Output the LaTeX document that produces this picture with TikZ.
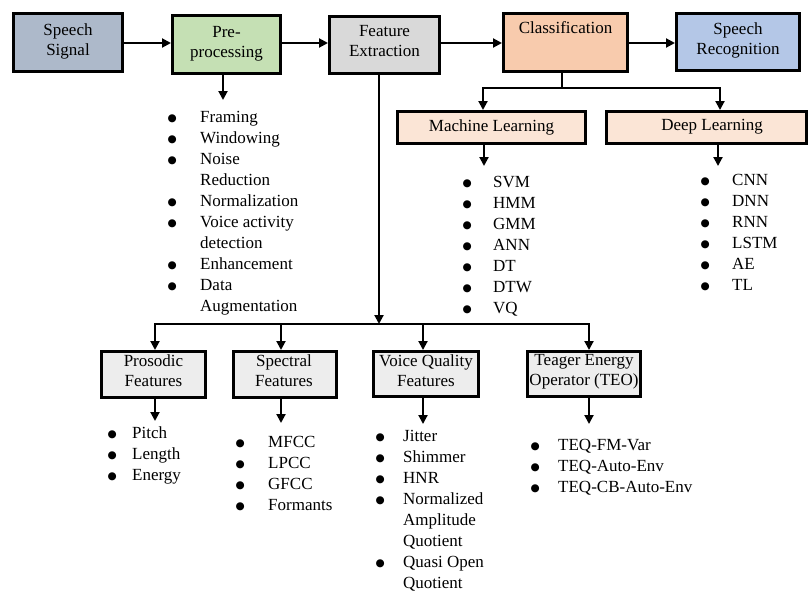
\documentclass[tikz,border=0pt]{standalone}
\usepackage{fontspec}
\setmainfont{Liberation Serif}
\newfontfamily\dejavu{DejaVu Sans}
\usetikzlibrary{arrows.meta}
\definecolor{cSS}{HTML}{ADB9CA}
\definecolor{cPre}{HTML}{C5E0B4}
\definecolor{cFE}{HTML}{D9D9D9}
\definecolor{cCls}{HTML}{F8CBAD}
\definecolor{cSR}{HTML}{B4C7E7}
\definecolor{cML}{HTML}{FBE5D6}
\definecolor{cBot}{HTML}{EDEDED}
\newcommand\bl{\makebox[0pt]{\raisebox{1pt}{\dejavu\fontsize{10.5}{10.5}\selectfont ●}}}
\newcommand\itemsL[2]{\begin{tabular}{@{}l@{\hspace{#1}}l@{}}#2\end{tabular}}
\begin{document}
\begin{tikzpicture}[x=1pt,y=-1pt,
  box/.style={draw, line width=3pt, inner sep=0pt, rectangle},
  txt/.style={align=center, inner sep=0pt, font=\fontsize{17}{20}\selectfont},
  conn/.style={line width=2pt},
  arr/.style={line width=2pt, -{Triangle[width=9pt,length=9pt]}},
  lst/.style={anchor=north west, inner sep=0pt, font=\fontsize{17}{21}\selectfont}
]
\useasboundingbox (0,0) rectangle (810,592);
% top row boxes
\node[box, fill=cSS,  minimum width=109pt, minimum height=58pt] (ss)  at (68,42.5) {};
\node[box, fill=cPre, minimum width=108pt, minimum height=58pt] (pre) at (226.5,44.5) {};
\node[box, fill=cFE,  minimum width=110pt, minimum height=57pt] (fe)  at (384.5,45) {};
\node[box, fill=cCls, minimum width=124pt, minimum height=58pt] (cls) at (565.5,42.5) {};
\node[box, fill=cSR,  minimum width=123pt, minimum height=57pt] (sr)  at (738,42) {};
\node[txt] (tss)  at (68,41.5) {Speech\\Signal};
\node[txt] (tpre) at (226.5,44) {Pre-\\processing};
\node[txt] (tfe)  at (384.5,41) {Feature\\Extraction};
\node[txt] (tcls) at (565.5,28) {Classification};
\node[txt] (tsr)  at (738,40) {Speech\\Recognition};
% classifier boxes
\node[box, fill=cML, minimum width=188pt, minimum height=32pt] (ml) at (491.5,127.5) {};
\node[box, fill=cML, minimum width=200pt, minimum height=32pt] (dl) at (706.5,127.5) {};
\node[txt] (tml) at (491.5,127) {Machine Learning};
\node[txt] (tdl) at (712,127) {Deep Learning};
% feature boxes
\node[box, fill=cBot, minimum width=104pt, minimum height=46pt] (pros) at (153.5,374.5) {};
\node[box, fill=cBot, minimum width=103pt, minimum height=46pt] (spec) at (285,374.5) {};
\node[box, fill=cBot, minimum width=105pt, minimum height=45pt] (vq)   at (426,374) {};
\node[box, fill=cBot, minimum width=113pt, minimum height=45pt] (teo)  at (584,374) {};
\node[txt] (tpros) at (153.5,370.5) {Prosodic\\Features};
\node[txt] (tspec) at (284,370.5) {Spectral\\Features};
\node[txt] (tvq)   at (426,370.5) {Voice Quality\\Features};
\node[txt] (tteo)  at (584,372) {Teager Energy\\Operator (TEO)};
% horizontal chain
\coordinate (hy) at (0,43);
\draw[arr] (ss.east |- hy) -- (pre.west |- hy);
\draw[arr] (pre.east |- hy) -- (fe.west |- hy);
\draw[arr] (fe.east |- hy) -- (cls.west |- hy);
\draw[arr] (cls.east |- hy) -- (sr.west |- hy);
% pre-processing down
\coordinate (pretip) at (223,100);
\draw[arr] (pre.south -| pretip) -- (pretip);
% feature extraction tree
\coordinate (fbar) at (379,324);
\draw[arr] (fe.south -| fbar) -- (fbar);
\coordinate (b1) at (155,324);
\coordinate (b2) at (281,324);
\coordinate (b3) at (423,324);
\coordinate (b4) at (589,324);
\draw[conn, line cap=rect] (b1) -- (b4);
\draw[arr] (b1) -- (b1 |- pros.north);
\draw[arr] (b2) -- (b2 |- spec.north);
\draw[arr] (b3) -- (b3 |- vq.north);
\draw[arr] (b4) -- (b4 |- teo.north);
% classification tree
\coordinate (cbar) at (562,88);
\coordinate (c1) at (483,88);
\coordinate (c2) at (720,88);
\draw[conn] (cls.south -| cbar) -- (cbar);
\draw[conn, line cap=rect] (c1) -- (c2);
\draw[arr] (c1) -- (c1 |- ml.north);
\draw[arr] (c2) -- (c2 |- dl.north);
\coordinate (mltip) at (484,166);
\coordinate (dltip) at (718,166);
\draw[arr] (ml.south -| mltip) -- (mltip);
\draw[arr] (dl.south -| dltip) -- (dltip);
% feature down arrows
\coordinate (p1) at (155,421);
\coordinate (p2) at (281,423);
\coordinate (p3) at (423,424);
\coordinate (p4) at (589,424);
\draw[arr] (pros.south -| p1) -- (p1);
\draw[arr] (spec.south -| p2) -- (p2);
\draw[arr] (vq.south -| p3) -- (p3);
\draw[arr] (teo.south -| p4) -- (p4);
% lists
\node[lst] (lpre) at (172,107.3) {\itemsL{28pt}{\bl & Framing\\ \bl & Windowing\\ \bl & Noise\\ & Reduction\\ \bl & Normalization\\ \bl & Voice activity\\ & detection\\ \bl & Enhancement\\ \bl & Data\\ & Augmentation}};
\node[lst] (lml) at (467,172.3) {\itemsL{26pt}{\bl & SVM\\ \bl & HMM\\ \bl & GMM\\ \bl & ANN\\ \bl & DT\\ \bl & DTW\\ \bl & VQ}};
\node[lst] (ldl) at (705,170.3) {\itemsL{27pt}{\bl & CNN\\ \bl & DNN\\ \bl & RNN\\ \bl & LSTM\\ \bl & AE\\ \bl & TL}};
\node[lst] (lpros) at (112,423.3) {\itemsL{20pt}{\bl & Pitch\\ \bl & Length\\ \bl & Energy}};
\node[lst] (lspec) at (240,432.3) {\itemsL{28pt}{\bl & MFCC\\ \bl & LPCC\\ \bl & GFCC\\ \bl & Formants}};
\node[lst] (lvq) at (380,427) {\itemsL{23pt}{\bl & Jitter\\ \bl & Shimmer\\ \bl & HNR\\ \bl & Normalized\\ & Amplitude\\ & Quotient\\ \bl & Quasi Open\\ & Quotient}};
\node[lst] (lteo) at (535,435.3) {\itemsL{23pt}{\bl & TEQ-FM-Var\\ \bl & TEQ-Auto-Env\\ \bl & TEQ-CB-Auto-Env}};
\end{tikzpicture}
\end{document}
